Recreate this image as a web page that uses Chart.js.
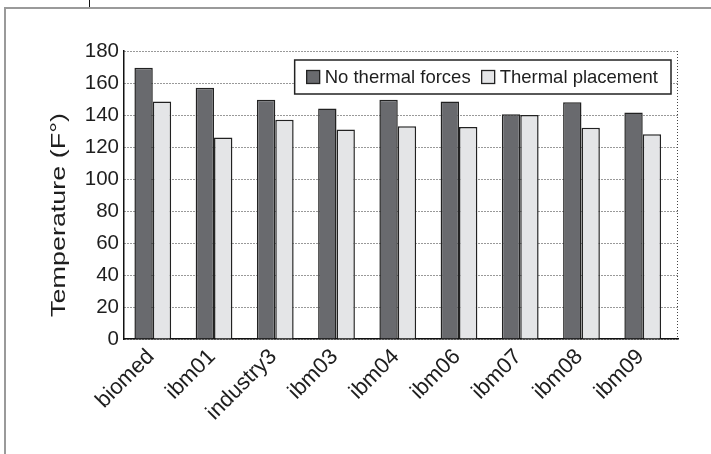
<!DOCTYPE html>
<html>
<head>
<meta charset="utf-8">
<script src="https://cdn.jsdelivr.net/npm/chart.js@4/dist/chart.umd.min.js"></script>
<style>
  html, body { margin: 0; padding: 0; background: #fff; }
  #wrap { position: relative; width: 711px; height: 454px; overflow: hidden; }
  #frame { position: absolute; left: 4px; top: 7px; width: 720px; height: 460px;
           border-left: 2px solid #9a9a9a; border-top: 2px solid #9a9a9a; }
  #mark { position: absolute; left: 89px; top: 0; width: 1px; height: 7px; background: #111; }
  canvas { position: absolute; left: 0; top: 0; }
</style>
</head>
<body>
<div id="wrap">
  <div id="frame"></div>
  <div id="mark"></div>
  <canvas id="c" width="711" height="454"></canvas>
</div>
<script>
// Benchmarks and peak temperatures for each placement mode
const categories = ['biomed', 'ibm01', 'industry3', 'ibm03', 'ibm04', 'ibm06', 'ibm07', 'ibm08', 'ibm09'];
const noThermal = [169.5, 157, 149.5, 144, 149.5, 148.5, 140.5, 148, 141.5];
const thermalPlacement = [148.5, 126, 137, 131, 133, 132.5, 140, 132, 128];
const seriesNames = ['No thermal forces', 'Thermal placement'];
const yTicks = [0, 20, 40, 60, 80, 100, 120, 140, 160, 180];
const yTitle = 'Temperature (F°)';

const FONT = '"Liberation Sans", Arial, Helvetica, sans-serif';
const DARK = '#696a6e';
const LIGHT = '#e4e5e7';
const EDGE = '#222';
const TEXT = '#1e1e1e';

// benchmark index on a numeric axis, so the group slots can sit off-centre
const asPoints = values => values.map((v, i) => ({ x: i, y: v }));

// Dotted right frame, wide-set axis title and a boxed legend inside the plot
const framePlugin = {
  id: 'frameAndLegend',
  afterDraw(chart) {
    const { ctx, chartArea: a } = chart;
    ctx.save();
    ctx.strokeStyle = '#444';
    ctx.lineWidth = 1;
    ctx.setLineDash([1, 2]);
    ctx.beginPath();
    ctx.moveTo(a.right - 0.5, a.top);
    ctx.lineTo(a.right - 0.5, a.bottom);
    ctx.stroke();
    ctx.setLineDash([]);

    // y axis title, set wide along its baseline
    ctx.save();
    ctx.font = '21px ' + FONT;
    const tw = ctx.measureText(yTitle).width;
    const stretch = 204 / tw;
    ctx.translate(65, (a.top + a.bottom) / 2 + 20);
    ctx.rotate(-Math.PI / 2);
    ctx.scale(stretch, 1);
    ctx.fillStyle = TEXT;
    ctx.textAlign = 'center';
    ctx.textBaseline = 'alphabetic';
    ctx.fillText(yTitle, 0, 0);
    ctx.restore();

    // legend
    ctx.font = '18.5px ' + FONT;
    const sq = 13, gapIn = 5, gapOut = 11, padL = 12, padR = 13;
    const items = chart.data.datasets.map(d => ({ label: d.label, color: d.backgroundColor }));
    let w = padL + padR;
    items.forEach((it, i) => {
      it.tw = ctx.measureText(it.label).width;
      w += sq + gapIn + it.tw + (i < items.length - 1 ? gapOut : 0);
    });
    const h = 34;
    const x0 = a.right - 7 - w;
    const y0 = a.top + 9;
    ctx.fillStyle = '#fff';
    ctx.fillRect(x0, y0, w, h);
    ctx.strokeStyle = EDGE;
    ctx.lineWidth = 1.5;
    ctx.strokeRect(x0, y0, w, h);
    let x = x0 + padL;
    const cy = y0 + h / 2;
    items.forEach(it => {
      ctx.fillStyle = it.color;
      ctx.fillRect(x, cy - sq / 2, sq, sq);
      ctx.lineWidth = 1.3;
      ctx.strokeStyle = EDGE;
      ctx.strokeRect(x, cy - sq / 2, sq, sq);
      x += sq + gapIn;
      ctx.fillStyle = TEXT;
      ctx.textBaseline = 'middle';
      ctx.textAlign = 'left';
      ctx.fillText(it.label, x, cy + 1);
      x += it.tw + gapOut;
    });
    ctx.restore();
  }
};

new Chart(document.getElementById('c'), {
  type: 'bar',
  data: {
    labels: categories,
    datasets: [
      { label: seriesNames[0], data: asPoints(noThermal), backgroundColor: DARK, borderColor: EDGE, borderWidth: 1.5 },
      { label: seriesNames[1], data: asPoints(thermalPlacement), backgroundColor: LIGHT, borderColor: EDGE, borderWidth: 1.5 }
    ]
  },
  options: {
    responsive: false,
    animation: false,
    layout: { padding: { left: 41, top: 51, right: 33, bottom: 0 } },
    datasets: { bar: { categoryPercentage: 0.6, barPercentage: 1.0 } },
    plugins: { legend: { display: false }, tooltip: { enabled: false } },
    scales: {
      x: {
        type: 'linear',
        offset: false,
        min: -0.47,
        max: 8.576,
        afterBuildTicks(s) { s.ticks = categories.map((c, i) => ({ value: i })); },
        grid: { display: false, drawTicks: false, offset: false },
        border: { display: true, color: '#111', width: 1.5 },
        ticks: {
          color: TEXT,
          font: { family: FONT, size: 22 },
          minRotation: 45, maxRotation: 45,
          autoSkip: false,
          padding: 5,
          labelOffset: -2,
          callback: v => categories[v]
        },
        afterFit(s) { s.height = 454 - 339; }
      },
      y: {
        min: 0, max: 180,
        afterBuildTicks(s) { s.ticks = yTicks.map(v => ({ value: v })); },
        grid: { color: '#333', lineWidth: 1, drawTicks: false },
        border: { display: true, color: '#111', width: 1.5, dash: [1, 2] },
        ticks: {
          color: TEXT,
          font: { family: FONT, size: 20.5 },
          padding: 5
        },
        afterFit(s) { s.width = 124 - 41; }
      }
    }
  },
  plugins: [framePlugin]
});
</script>
</body>
</html>
